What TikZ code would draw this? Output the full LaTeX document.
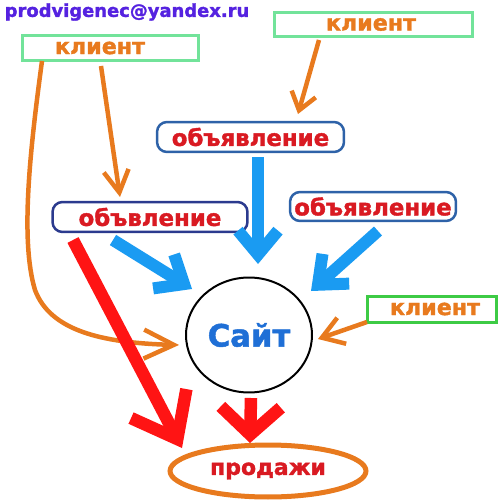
\documentclass[tikz,border=0pt]{standalone}
\usepackage{fontspec}
\setmainfont{DejaVu Sans}[BoldFeatures={FakeBold=1.6}]
\usetikzlibrary{arrows.meta,shapes.geometric}
\definecolor{orng}{HTML}{E87A1E}
\definecolor{barr}{HTML}{1A9BF2}
\definecolor{rarr}{HTML}{FF1414}
\definecolor{rtxt}{HTML}{D91A22}
\definecolor{sblue}{HTML}{1F6FD6}
\definecolor{mail}{HTML}{5522E0}
\definecolor{gpale}{HTML}{72E39A}
\definecolor{gbright}{HTML}{3DCB45}
\definecolor{adb}{HTML}{2E62A8}
\definecolor{adn}{HTML}{2B3A8E}
\begin{document}
\begin{tikzpicture}[x=0.02cm,y=-0.02cm,
  clbox/.style={draw=gpale, line width=0.06cm, inner sep=0pt},
  cltext/.style={text=orng, font=\fontsize{12.6}{14}\selectfont\bfseries, inner sep=0pt},
  adbox/.style={draw=adb, line width=0.05cm, rounded corners=0.2cm, inner sep=0pt,
    text=rtxt, font=\fontsize{13}{15}\selectfont\bfseries},
  orarr/.style={draw=orng, line width=0.09cm},
  bluearr/.style={draw=barr, line width=0.24cm, -{Straight Barb[length=0.48cm,width=0.8cm]}},
  redarr/.style={draw=rarr, line width=0.25cm}]
\useasboundingbox (0,0) rectangle (500,500);

% email
\node[text=mail, font=\fontsize{10.2}{12}\selectfont\bfseries, inner sep=0pt] (mail) at (127,12) {prodvigenec@yandex.ru};

% client boxes
\node[clbox, minimum width=3.54cm, minimum height=0.52cm] (c1) at (110.5,48) {};
\node[cltext] (c1t) at (100,48) {клиент};
\node[clbox, minimum width=3.98cm, minimum height=0.5cm] (c2) at (373.5,24.5) {};
\node[cltext] (c2t) at (371,24.5) {клиент};
\node[clbox, draw=gbright, minimum width=2.6cm, minimum height=0.52cm] (c3) at (432,309) {};
\node[cltext] (c3t) at (435,309) {клиент};

% ad boxes
\node[adbox, minimum width=3.74cm, minimum height=0.6cm] (a1) at (250.5,137) {объявление};
\node[adbox, draw=adn, minimum width=3.9cm, minimum height=0.6cm] (a2) at (150,217) {объвление};
\node[adbox, minimum width=3.32cm, minimum height=0.58cm] (a3) at (373,206.5) {объявление};

% site
\node[ellipse, draw=black, line width=0.04cm, minimum width=2.52cm, minimum height=2.3cm, inner sep=0pt,
  text=sblue, font=\fontsize{17.5}{20}\selectfont\bfseries] (site) at (249,335) {Сайт};

% sales
\node[ellipse, draw=orng, line width=0.1cm, minimum width=3.92cm, minimum height=1.04cm, inner sep=0pt,
  text=rtxt, font=\fontsize{12.5}{14}\selectfont\bfseries] (sales) at (268,471) {продажи};

% coordinates for connector ends
\coordinate (o2s) at (319,40);  \coordinate (o2e) at (298,114);
\coordinate (o1s) at (101,66);  \coordinate (o1e) at (120,197);
\coordinate (o3s) at (42,61);   \coordinate (o3e) at (179,345);
\coordinate (o4s) at (367,322); \coordinate (o4e) at (318,339);
\coordinate (b1s) at (258,157); \coordinate (b1e) at (258,264);
\coordinate (b2s) at (113,240); \coordinate (b2e) at (192,289);
\coordinate (b3s) at (378,231); \coordinate (b3e) at (311,291);
\coordinate (r1s) at (73,240);  \coordinate (r1e) at (182,448);
\coordinate (r2s) at (251,398); \coordinate (r2e) at (250,443);

% orange arrows
\draw[orarr, -{Straight Barb[length=0.34cm,width=0.5cm]}] (o2s) -- (o2e);
\draw[orarr, -{Straight Barb[length=0.44cm,width=0.5cm]}] (o1s) -- (o1e);
\draw[orarr, -{Straight Barb[length=0.6cm,width=0.58cm]}] (o3s) .. controls (30,150) and (20,240) .. (35,290) .. controls (50,330) and (100,343) .. (o3e);
\draw[orarr, -{Straight Barb[length=0.42cm,width=0.55cm]}] (o4s) -- (o4e);

% blue arrows
\draw[bluearr] (b1s) -- (b1e);
\draw[bluearr] (b2s) -- (b2e);
\draw[bluearr] (b3s) -- (b3e);

% red arrows
\draw[redarr, -{Straight Barb[length=0.8cm,width=1.25cm]}] (r1s) -- (r1e);
\draw[redarr, -{Straight Barb[length=0.55cm,width=1.2cm]}] (r2s) -- (r2e);
\end{tikzpicture}
\end{document}
